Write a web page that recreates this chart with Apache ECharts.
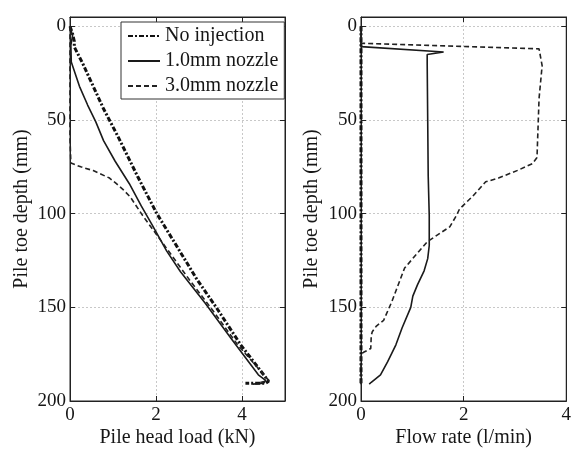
<!DOCTYPE html>
<html>
<head>
<meta charset="utf-8">
<script src="https://cdn.jsdelivr.net/npm/echarts@6/dist/echarts.min.js"></script>
<style>
html,body{margin:0;padding:0;background:#fff;overflow:hidden;}
#c{width:574px;height:453px;}
</style>
</head>
<body>
<div id="c"></div>
<script>
// ---- Left panel: pile head load (kN) vs pile toe depth (mm)
const noInjDepthL = [0, 4, 8, 11, 20, 44, 59, 80, 100, 118, 135, 150, 170, 189.5, 190.5, 190.5];
const noInjLoadL  = [0, 0.06, 0.1, 0.1, 0.3, 0.78, 1.12, 1.57, 2.02, 2.5, 2.95, 3.4, 3.97, 4.62, 4.55, 4.08];

const n10DepthL = [0, 5, 10, 19, 32, 42, 51, 61, 72, 84, 96, 106, 120, 131, 148, 167, 186, 189, 190.5, 191];
const n10LoadL  = [0, 0.06, 0.02, 0.03, 0.22, 0.41, 0.6, 0.78, 1.05, 1.38, 1.66, 1.91, 2.25, 2.57, 3.15, 3.76, 4.38, 4.55, 4.5, 4.25];

const n30DepthL = [0, 20, 40, 60, 73, 75, 77, 81, 84, 87, 91, 101, 118, 136, 151, 170, 189, 190.5];
const n30LoadL  = [0, 0, 0, 0, 0.02, 0.25, 0.54, 0.92, 1.08, 1.23, 1.4, 1.69, 2.23, 2.8, 3.3, 3.9, 4.62, 4.35];

// ---- Right panel: flow rate (l/min) vs pile toe depth (mm)
const noInjDepthR = [0, 50, 100, 150, 191];
const noInjFlowR  = [0, 0, 0, 0, 0];

const n10DepthR = [0, 10.8, 13.7, 15, 20, 50, 80, 101, 117, 124, 130.5, 138, 144, 150, 161, 170, 179, 186, 190, 191];
const n10FlowR  = [0, 0, 1.61, 1.29, 1.29, 1.3, 1.31, 1.33, 1.33, 1.3, 1.23, 1.1, 1.01, 0.97, 0.8, 0.68, 0.52, 0.38, 0.2, 0.16];

const n30DepthR = [0, 9, 12, 21, 38.5, 70, 73.3, 76.8, 81, 83, 90.6, 97.5, 101, 107, 115, 129, 147, 157, 160, 163, 165, 172, 174, 175, 191];
const n30FlowR  = [0, 0, 3.47, 3.53, 3.47, 3.43, 3.34, 3.06, 2.68, 2.43, 2.18, 1.92, 1.86, 1.73, 1.29, 0.85, 0.6, 0.44, 0.3, 0.22, 0.2, 0.19, 0.05, 0, 0];

const names = ['No injection', '1.0mm nozzle', '3.0mm nozzle'];

function pairs(xs, ys){ return xs.map((x,i)=>[x, ys[i]]); }

const FONT = 'Liberation Serif';
const txt = {fontFamily: FONT, fontSize: 19, color: '#161616'};

const styles = [
  {color:'#111', width:3, type:[5,2,2,2]},
  {color:'#1a1a1a', width:1.6, type:'solid'},
  {color:'#222', width:1.6, type:[5,3]}
];

function xAx(idx, max, name, main){
  return {
    type:'value', gridIndex: idx, min:0, max:max, interval:2,
    position: main ? 'bottom' : 'top',
    name: main ? name : '', nameLocation:'middle', nameGap: 27, nameMoveOverlap: false,
    nameTextStyle: {fontFamily: FONT, fontSize: 20, color:'#161616'},
    axisLine:{show:true, onZero:false, lineStyle:{color:'#222', width:1}},
    axisTick:{show:true, inside:true, length:5, lineStyle:{color:'#222'}},
    axisLabel:{show: main, ...txt, margin: 5, showMaxLabel: max === 4, showMinLabel: true,
               alignMaxLabel: 'center', alignMinLabel: 'center'},
    splitLine:{show: main, lineStyle:{color:'#c8c8c8', type:[2,2], width:1}}
  };
}
function yAx(idx, name, main, gap){
  return {
    type:'value', gridIndex: idx, min:-5, max:200, inverse:true, splitNumber:4,
    position: main ? 'left' : 'right',
    name: main ? name : '', nameLocation:'middle', nameGap: gap, nameMoveOverlap: false,
    nameTextStyle: {fontFamily: FONT, fontSize: 20, color:'#161616'},
    axisLine:{show:true, onZero:false, lineStyle:{color:'#222', width:1}},
    axisTick:{show:true, inside:true, length:5, lineStyle:{color:'#222'}},
    axisLabel:{show: main, ...txt, margin: 4, showMinLabel:false},
    splitLine:{show: main, lineStyle:{color:'#c8c8c8', type:[2,2], width:1}}
  };
}

function ser(name, data, xi, yi, st, z){
  return {
    name, type:'line', data, xAxisIndex: xi, yAxisIndex: yi,
    symbol:'none', showSymbol:false, animation:false, z: z, clip: false,
    lineStyle:{color: st.color, width: st.width, type: st.type},
    itemStyle:{color: st.color}
  };
}

const chart = echarts.init(document.getElementById('c'), null, {renderer:'canvas', width:574, height:453});
chart.setOption({
  backgroundColor:'#fff',
  animation:false,
  grid:[
    {left:70, width:215, top:17, height:393, show:true, borderColor:'#222', borderWidth:1, backgroundColor:'#fff'},
    {left:361, width:211, top:17, height:393, show:true, borderColor:'#222', borderWidth:1, backgroundColor:'#fff'}
  ],
  xAxis:[
    xAx(0, 5, 'Pile head load (kN)', true),
    xAx(1, 4, 'Flow rate (l/min)', true),
    xAx(0, 5, '', false),
    xAx(1, 4, '', false)
  ],
  yAxis:[
    yAx(0, 'Pile toe depth (mm)', true, 38),
    yAx(1, 'Pile toe depth (mm)', true, 39),
    yAx(0, '', false, 0),
    yAx(1, '', false, 0)
  ],
  legend:{
    data: names,
    orient:'vertical', left:121, top:22,
    padding:[4,6,3,6], itemGap:5, itemWidth:32, itemHeight:16,
    backgroundColor:'#fff', borderColor:'#333', borderWidth:1, borderRadius:0,
    itemStyle:{opacity:0},
    textStyle:{fontFamily: FONT, fontSize: 20, color:'#161616', lineHeight:20},
    selectedMode:false, z: 10
  },
  series:[
    ser(names[0], pairs(noInjLoadL, noInjDepthL), 0, 0, styles[0], 3),
    ser(names[1], pairs(n10LoadL, n10DepthL), 0, 0, styles[1], 4),
    ser(names[2], pairs(n30LoadL, n30DepthL), 0, 0, styles[2], 5),
    ser(names[0], pairs(noInjFlowR, noInjDepthR), 1, 1, styles[0], 3),
    ser(names[1], pairs(n10FlowR, n10DepthR), 1, 1, styles[1], 4),
    ser(names[2], pairs(n30FlowR, n30DepthR), 1, 1, styles[2], 5)
  ]
});
</script>
</body>
</html>
